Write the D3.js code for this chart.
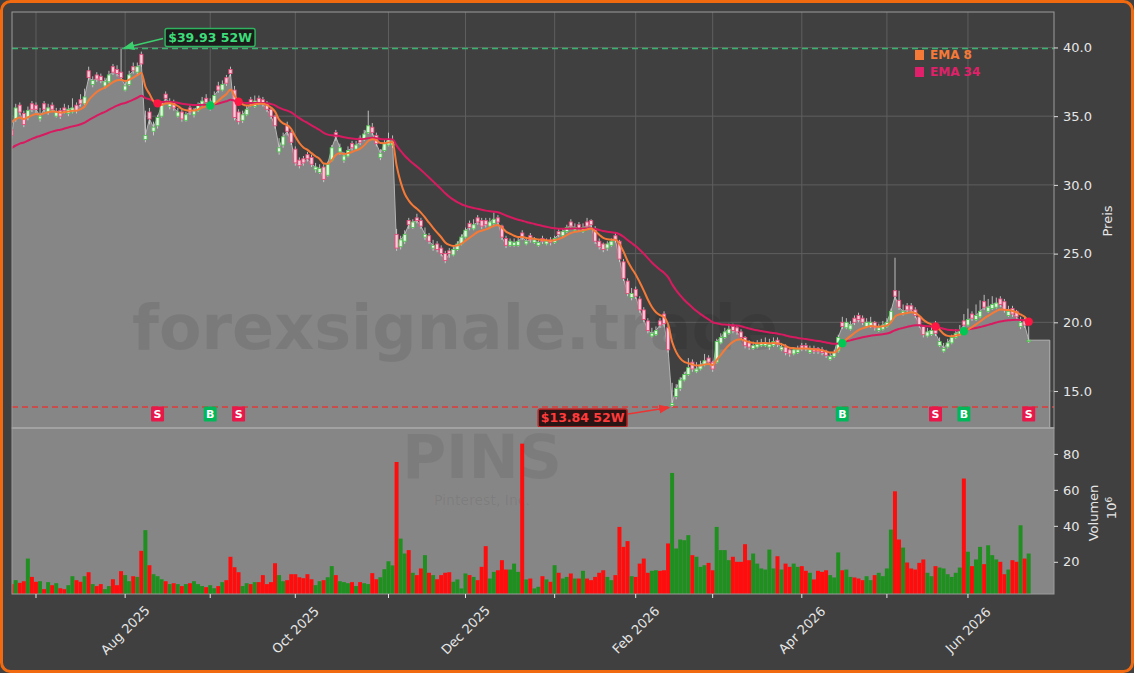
<!DOCTYPE html>
<html><head><meta charset="utf-8">
<script src="https://cdn.jsdelivr.net/npm/d3@7/dist/d3.min.js"></script>
<style>html,body{margin:0;padding:0;background:#404040;}svg{display:block;font-family:"DejaVu Sans",sans-serif;}</style>
</head><body><svg id="c" width="1134" height="673"></svg>
<script>
// ---------------- DATA (PINS daily) ----------------
const startDate = "2025-06-23";
const holidays = ["2025-07-04","2025-09-01","2025-11-27","2025-12-25","2026-01-01","2026-01-19","2026-02-16","2026-04-03","2026-05-25","2026-06-19"];
const opens = [
34.0,34.8,35.8,35.2,34.9,35.9,35.8,34.8,35.9,35.3,
35.8,35.0,35.4,35.6,35.2,35.3,35.8,36.2,35.9,38.3,
37.3,38.0,37.9,37.2,37.5,38.6,38.4,38.2,36.9,37.3,
38.6,38.2,39.5,33.3,35.3,33.9,34.3,35.0,36.6,35.7,
36.0,35.0,35.3,34.7,35.6,35.1,35.4,35.8,36.3,35.6,
35.9,37.2,36.9,37.8,38.4,36.9,35.3,34.7,35.1,36.2,
35.7,36.3,36.2,35.9,35.5,35.0,32.4,32.9,34.3,33.8,
32.6,31.8,31.9,32.2,32.0,31.1,30.9,31.3,30.7,31.8,
33.8,32.4,31.8,32.1,33.0,32.6,33.4,33.3,33.8,34.2,
33.6,32.0,32.5,32.9,32.9,26.4,25.5,25.9,27.4,26.9,
27.6,27.4,26.2,26.3,25.4,25.7,25.4,25.0,25.2,24.9,
25.3,25.7,26.2,27.2,26.8,27.6,27.4,27.4,27.0,27.2,
27.6,27.0,26.1,25.6,25.6,25.6,26.5,25.7,26.3,25.8,
25.6,26.1,25.7,26.0,25.8,26.6,26.3,26.6,27.3,26.7,
27.1,26.6,27.3,27.4,26.8,25.9,25.7,25.4,25.6,26.3,
25.9,24.4,23.0,21.8,22.4,21.7,20.9,20.1,19.0,19.1,
20.1,20.6,19.6,13.95,14.6,15.2,15.8,16.2,17.1,16.4,
16.6,16.9,17.4,17.1,17.1,18.5,18.9,19.2,19.7,19.6,
19.3,18.9,18.5,18.1,18.2,18.3,18.3,18.2,18.3,18.7,
18.0,18.2,18.0,17.7,17.8,18.3,18.3,17.8,18.1,18.1,
18.0,17.9,17.3,17.5,17.9,20.0,19.6,19.5,20.3,20.5,
20.3,19.7,19.7,20.0,19.4,19.5,19.7,20.1,22.3,21.6,
20.6,21.2,21.2,20.9,20.4,19.7,19.0,19.1,19.9,18.3,
17.9,18.2,18.5,18.9,19.1,20.1,19.8,20.6,20.2,20.4,
21.5,20.8,21.0,21.1,21.7,21.5,20.5,21.0,20.8,19.7,
20.2,18.6];
const highs = [
34.2,35.9,36.0,35.4,35.7,36.1,36.0,35.6,36.1,35.9,
36.0,35.6,35.6,35.9,35.8,36.3,36.0,36.6,37.0,38.6,
37.9,38.2,38.1,37.8,38.3,38.8,38.7,39.93,37.6,38.3,
38.9,38.9,39.7,35.4,35.6,34.6,35.1,36.0,36.8,36.3,
36.2,35.6,35.5,35.3,35.8,35.6,36.0,36.4,36.6,36.3,
36.8,37.5,37.6,38.0,38.6,37.2,35.5,35.4,35.8,36.4,
36.5,36.5,36.4,36.1,35.6,35.1,33.4,33.8,34.6,34.0,
32.8,32.0,32.1,32.4,32.2,31.6,31.5,31.5,31.7,32.9,
34.0,33.0,32.4,32.8,33.2,33.2,33.6,34.0,35.4,34.5,
33.8,32.6,33.3,33.8,33.6,26.8,26.3,26.7,27.6,27.5,
27.9,27.6,26.9,26.5,26.0,25.9,25.6,25.2,25.4,25.5,
25.9,26.4,26.9,27.4,27.5,27.8,27.6,27.6,27.6,28.0,
27.8,27.1,26.3,26.1,26.1,26.2,26.7,26.2,26.5,26.2,
26.0,26.3,26.1,26.2,26.3,26.8,26.8,27.1,27.5,27.2,
27.3,27.2,27.6,27.5,27.0,26.1,25.8,25.9,26.1,26.5,
26.0,24.6,23.2,22.5,22.6,21.9,21.1,20.3,19.6,19.7,
20.3,20.8,19.8,15.6,15.5,16.0,16.4,17.4,17.3,17.1,
17.2,17.7,17.6,17.2,18.8,19.2,19.6,19.9,19.9,19.8,
19.5,19.0,18.7,18.6,18.7,18.8,18.9,18.8,18.9,18.9,
18.5,18.4,18.1,18.2,18.3,18.5,18.5,18.3,18.3,18.2,
18.2,18.0,17.8,18.0,19.1,20.4,20.3,20.1,20.5,20.7,
20.5,20.3,20.4,20.1,19.9,20.1,20.3,21.0,24.7,22.3,
21.3,21.4,21.4,21.1,20.5,19.8,19.6,19.7,20.1,18.9,
18.5,18.8,19.1,19.5,19.8,20.6,21.0,20.8,21.3,21.6,
22.0,21.7,21.9,21.8,21.9,21.7,21.2,21.2,20.9,20.4,
20.4,19.7];
const lows = [
33.4,34.6,35.1,34.2,34.7,35.3,35.2,34.6,35.3,35.1,
35.3,34.9,34.8,35.2,35.0,35.2,35.2,35.7,35.8,37.6,
37.1,37.5,37.4,37.0,37.4,38.0,37.9,37.6,36.8,37.2,
38.1,38.0,38.6,33.1,34.4,33.6,34.1,34.9,36.0,35.5,
35.4,34.9,34.6,34.6,35.1,34.9,35.3,35.7,35.8,35.4,
35.8,36.7,36.8,37.2,37.9,34.7,34.4,34.5,35.0,35.7,
35.6,35.8,35.7,35.3,34.8,34.1,32.2,32.7,33.6,32.9,
31.4,31.2,31.4,31.7,31.3,30.9,30.8,30.2,30.6,31.7,
33.2,32.2,31.6,32.0,32.5,32.5,32.9,33.2,33.7,33.6,
32.8,31.8,32.4,32.8,32.7,25.2,25.3,25.7,26.8,26.8,
27.2,26.8,26.0,25.7,25.2,25.1,24.8,24.3,24.7,24.8,
25.2,25.6,26.1,26.7,26.7,27.1,26.8,26.9,26.9,27.1,
27.1,26.0,25.4,25.5,25.5,25.5,26.0,25.6,25.8,25.7,
25.5,25.7,25.6,25.6,25.7,26.2,26.2,26.5,26.8,26.6,
26.6,26.5,26.8,26.9,25.7,25.3,25.1,25.2,25.5,25.8,
24.4,23.0,21.9,21.6,21.7,20.7,20.0,19.2,18.9,19.0,
19.6,19.7,17.8,13.84,14.4,15.0,15.7,16.1,16.4,16.3,
16.5,16.8,16.9,16.4,17.0,18.4,18.8,19.1,19.2,19.1,
18.7,18.1,18.0,18.0,18.1,18.2,18.2,18.0,18.2,18.2,
17.9,17.6,17.5,17.6,17.7,17.9,17.9,17.7,17.7,17.7,
17.6,17.4,17.2,17.4,17.8,19.5,19.5,19.4,19.8,20.0,
19.8,19.6,19.6,19.4,19.3,19.4,19.6,20.0,21.6,20.9,
20.5,20.7,20.7,20.3,19.6,18.9,18.9,19.0,19.0,18.2,
17.8,18.1,18.4,18.8,19.0,19.5,19.7,20.1,20.1,20.3,
20.9,20.7,20.9,21.0,21.1,20.7,20.4,20.4,20.2,19.5,
19.6,18.5];
const closes = [
33.6,35.6,35.3,34.4,35.4,35.5,35.5,35.0,35.5,35.6,
35.5,35.3,35.0,35.4,35.5,35.6,35.4,35.9,36.4,37.8,
37.6,37.7,37.6,37.5,38.0,38.2,38.1,37.8,37.2,38.0,
38.3,38.6,38.8,33.6,34.8,34.2,34.9,35.8,36.3,36.0,
35.6,35.3,34.8,35.1,35.3,35.4,35.8,36.1,36.0,35.8,
36.5,36.9,37.3,37.4,38.1,34.9,34.6,35.1,35.5,35.9,
36.1,36.0,35.9,35.5,35.0,34.3,32.7,33.5,33.9,33.1,
31.6,31.4,31.6,31.9,31.5,31.3,31.2,30.4,31.5,32.7,
33.5,32.7,32.1,32.5,32.7,32.9,33.1,33.7,34.3,33.8,
33.0,32.3,33.0,33.3,33.2,25.4,26.0,26.4,27.1,27.3,
27.4,27.0,26.4,25.9,25.6,25.3,25.0,24.5,25.0,25.3,
25.7,26.2,26.7,26.9,27.1,27.3,27.0,27.1,27.3,27.5,
27.3,26.2,25.6,25.9,25.8,25.9,26.2,25.9,26.0,26.0,
25.8,25.9,25.9,25.8,26.1,26.4,26.6,26.9,27.0,26.9,
26.8,26.9,27.0,27.1,25.9,25.5,25.3,25.7,25.9,26.0,
24.6,23.2,22.1,22.1,21.9,20.9,20.2,19.4,19.2,19.4,
19.8,19.9,18.0,14.1,15.2,15.8,16.2,16.7,16.6,16.6,
16.9,17.2,17.1,16.6,18.6,18.9,19.3,19.5,19.4,19.3,
18.9,18.3,18.2,18.3,18.4,18.5,18.5,18.4,18.6,18.4,
18.2,17.8,17.7,18.0,18.0,18.1,18.1,18.0,17.9,17.9,
17.8,17.6,17.5,17.8,18.9,19.7,20.0,19.8,20.0,20.2,
20.0,20.0,20.0,19.6,19.6,19.8,20.0,20.8,21.9,21.1,
20.8,20.9,20.9,20.5,19.8,19.1,19.3,19.4,19.2,18.6,
18.1,18.5,18.9,19.2,19.4,19.8,20.2,20.3,20.5,20.8,
21.1,21.1,21.3,21.4,21.3,20.9,20.8,20.6,20.4,20.0,
19.8,18.7];
const volumes = [ // millions of shares
7.6,9.8,8.3,9.2,21.8,11.6,8.9,9.2,4.8,8.7,
7.0,8.1,5.3,4.8,7.0,12.0,9.8,8.9,12.0,14.2,
7.6,6.5,7.6,4.8,6.5,10.3,7.0,14.8,12.6,9.2,
12.0,11.6,26.1,37.6,18.1,13.1,12.0,10.3,9.2,7.6,
8.1,7.6,6.5,7.6,8.1,9.2,7.6,6.5,5.9,7.0,
5.3,6.5,8.7,9.8,22.8,17.0,14.2,6.5,8.1,7.6,
8.7,8.7,12.6,7.6,8.7,19.2,12.6,9.2,9.8,13.1,
13.1,11.4,10.9,13.1,10.3,7.0,9.2,9.8,11.4,17.6,
12.6,9.2,8.7,8.1,8.7,6.5,8.7,8.1,7.6,13.7,
10.3,11.4,15.9,20.3,18.0,75.5,32.9,24.6,26.5,13.9,
12.6,16.3,23.7,13.9,12.6,10.3,12.6,13.9,14.2,8.9,
10.2,5.2,13.5,12.6,11.6,9.8,17.2,28.7,10.7,14.4,
15.3,20.9,15.7,15.7,19.0,14.4,85.7,10.2,10.7,5.2,
6.1,12.0,10.2,8.9,18.1,13.9,10.7,11.6,13.5,10.7,
10.7,15.0,10.7,9.8,11.6,13.9,15.3,11.6,9.8,12.6,
39.4,28.3,31.5,12.0,11.6,19.0,21.8,13.9,15.0,15.3,
15.0,15.3,30.2,69.4,27.4,32.4,32.0,34.8,23.7,22.8,
17.2,18.1,19.4,15.3,39.4,26.5,26.5,20.9,22.8,20.0,
20.0,29.8,20.9,24.6,19.0,16.3,15.7,26.8,16.3,23.1,
15.7,19.0,17.2,19.0,17.2,17.6,15.0,13.9,10.2,15.0,
14.4,15.3,12.6,11.3,25.2,15.3,15.7,11.6,11.3,10.7,
9.8,12.0,9.8,12.6,13.9,12.0,16.3,37.9,59.2,32.4,
27.9,19.6,16.3,15.7,19.4,21.3,13.9,12.0,17.6,16.8,
16.3,13.1,11.6,13.9,16.8,66.3,25.6,17.6,21.3,28.3,
18.7,29.2,23.7,21.3,20.0,13.1,15.7,20.9,20.0,40.3,
21.8,24.6];
const emaSeed8 = 34.56, emaSeed34 = 32.7;   // EMA values at the first bar
const signalDates = ["2025-08-13","2025-09-02","2025-09-11","2026-04-16","2026-05-19","2026-05-29","2026-06-23"];
const signalTypes = ["S","B","S","B","S","B","S"];
const high52 = 39.93, low52 = 13.84;
const priceTicks = [15,20,25,30,35,40];
const volTicks = [20,40,60,80];
const labelMonths = [1,3,5,7,9,11]; // 0-based months that get a label (Feb, Apr, Jun, Aug, Oct, Dec)

// ---------------- derived ----------------
function tradingDays(start, n, hol){
  const out=[]; const hs=new Set(hol); const d=new Date(start+"T12:00:00Z");
  while(out.length<n){ const wd=d.getUTCDay(); const s=d.toISOString().slice(0,10);
    if(wd!==0&&wd!==6&&!hs.has(s)) out.push(s); d.setUTCDate(d.getUTCDate()+1);} return out;
}
const N = closes.length;
const dates = tradingDays(startDate, N, holidays);
function ema(vals, n, seed){ const a=2/(n+1); const r=[seed]; for(let i=1;i<vals.length;i++) r.push(a*vals[i]+(1-a)*r[i-1]); return r; }
const ema8 = ema(closes, 8, emaSeed8), ema34 = ema(closes, 34, emaSeed34);
const bars = closes.map((c,k)=>({k, o:opens[k], h:highs[k], l:lows[k], c, v:volumes[k], d:dates[k]}));

// ---------------- layout ----------------
const W=1134, H=673;
const L=12, R=1054, PT=12, PB=428, VT=428, VB=594;
const svg = d3.select("#c");
const x = d3.scaleLinear().domain([0.077, 257.24]).range([L, R]);
const y = d3.scaleLinear().domain([12.31, 42.58]).range([PB, PT]);
const yv = d3.scaleLinear().domain([2.1, 94.4]).range([VB, VT]);
const step = x(1)-x(0);

svg.append("rect").attr("x",1.5).attr("y",1.5).attr("width",W-3).attr("height",H-3).attr("rx",9)
  .attr("fill","#404040").attr("stroke","#f26a10").attr("stroke-width",3);

const defs = svg.append("defs");
defs.append("clipPath").attr("id","cp").append("rect").attr("x",L).attr("y",PT).attr("width",R-L).attr("height",PB-PT);
defs.append("clipPath").attr("id","cv").append("rect").attr("x",L).attr("y",VT).attr("width",R-L).attr("height",VB-VT);
function marker(id,color){
  defs.append("marker").attr("id",id).attr("viewBox","0 0 10 10").attr("refX",9).attr("refY",5)
    .attr("markerWidth",7).attr("markerHeight",7).attr("orient","auto-start-reverse")
    .append("path").attr("d","M0,1 L10,5 L0,9 z").attr("fill",color);
}
marker("ah","#3ccf6e"); marker("al","#ee3333");

// month ticks
const monthTicks = bars.filter((b,k)=>k>0 && b.d.slice(0,7)!==dates[k-1].slice(0,7));

// ---------------- price panel ----------------
const gp = svg.append("g").attr("clip-path","url(#cp)");
gp.append("rect").attr("x",L).attr("y",PT).attr("width",R-L).attr("height",PB-PT).attr("fill","#404040");
gp.selectAll(".hg").data(priceTicks).join("line").attr("x1",L).attr("x2",R)
  .attr("y1",d=>y(d)).attr("y2",d=>y(d)).attr("stroke","#5e5e5e").attr("stroke-width",1);
gp.selectAll(".vg").data(monthTicks).join("line").attr("y1",PT).attr("y2",PB)
  .attr("x1",d=>x(d.k)).attr("x2",d=>x(d.k)).attr("stroke","#5e5e5e").attr("stroke-width",1);

const areaPts = bars.map(b=>[b.k,b.c]).concat([[256.2, closes[N-1]]]);
gp.append("path").datum(areaPts)
  .attr("d", d3.area().x(d=>x(d[0])).y0(PB).y1(d=>y(d[1])))
  .attr("fill","#868686");
gp.append("path").datum(areaPts)
  .attr("d", d3.line().x(d=>x(d[0])).y(d=>y(d[1])))
  .attr("fill","none").attr("stroke","#b4b4b4").attr("stroke-width",1);
gp.append("line").attr("x1",x(256.2)).attr("x2",x(256.2)).attr("y1",y(closes[N-1])).attr("y2",PB).attr("stroke","#b4b4b4");

// watermark
gp.append("text").attr("x",455).attr("y",349).attr("text-anchor","middle")
  .attr("font-size",62).attr("font-weight","bold").attr("fill","#000").attr("fill-opacity",0.085)
  .text("forexsignale.trade");

// 52W lines
gp.append("line").attr("x1",L).attr("x2",R).attr("y1",y(high52)).attr("y2",y(high52))
  .attr("stroke","#3cb371").attr("stroke-width",1.5).attr("stroke-dasharray","6,4");
gp.append("line").attr("x1",L).attr("x2",R).attr("y1",y(low52)).attr("y2",y(low52))
  .attr("stroke","#e03a3a").attr("stroke-width",1.5).attr("stroke-dasharray","6,4");

// candles
gp.selectAll(".wk").data(bars).join("line")
  .attr("x1",b=>x(b.k)).attr("x2",b=>x(b.k)).attr("y1",b=>y(b.h)).attr("y2",b=>y(b.l))
  .attr("stroke","#dcdcdc").attr("stroke-width",1).attr("stroke-opacity",0.8);
gp.selectAll(".bd").data(bars).join("rect")
  .attr("x",b=>x(b.k)-1.6).attr("width",3.2)
  .attr("y",b=>y(Math.max(b.o,b.c))).attr("height",b=>Math.max(1,Math.abs(y(b.o)-y(b.c))))
  .attr("fill",b=>b.c>=b.o?"#e6f7e6":"#f7cdd9")
  .attr("stroke",b=>b.c>=b.o?"#52c452":"#e64a7a").attr("stroke-width",0.9);

// EMAs
gp.append("path").datum(ema34).attr("d",d3.line().x((d,i)=>x(i)).y(d=>y(d)).curve(d3.curveMonotoneX))
  .attr("fill","none").attr("stroke","#d81b60").attr("stroke-width",2);
gp.append("path").datum(ema8).attr("d",d3.line().x((d,i)=>x(i)).y(d=>y(d)).curve(d3.curveMonotoneX))
  .attr("fill","none").attr("stroke","#f57a38").attr("stroke-width",2);

// signals
const sigs = signalDates.map((d,j)=>{const k=dates.indexOf(d); return {k, t:signalTypes[j], v:(ema8[k]+ema34[k])/2};});
gp.selectAll(".sd").data(sigs).join("circle").attr("cx",s=>x(s.k)).attr("cy",s=>y(s.v)).attr("r",4.2)
  .attr("fill",s=>s.t==="B"?"#00c853":"#ff1744");
const sg = gp.selectAll(".sm").data(sigs).join("g").attr("transform",s=>`translate(${x(s.k)},414)`);
sg.append("rect").attr("x",-6.5).attr("y",-7.5).attr("width",13).attr("height",15).attr("rx",1)
  .attr("fill",s=>s.t==="B"?"#00b85a":"#e8194a");
sg.append("text").attr("text-anchor","middle").attr("dy","0.36em").attr("font-size",11).attr("font-weight","bold")
  .attr("fill","#fff").text(s=>s.t);

// 52W annotations
const kH = highs.indexOf(d3.max(highs)), kL = lows.indexOf(d3.min(lows));
const hx = x(kH), hy = y(high52), lx = x(kL), ly = y(low52);
svg.append("line").attr("x1",hx+42).attr("y1",hy-10).attr("x2",hx+3).attr("y2",hy-0.5)
  .attr("stroke","#3ccf6e").attr("stroke-width",1.6).attr("marker-end","url(#ah)");
svg.append("rect").attr("x",hx+44).attr("y",hy-20).attr("width",90).attr("height",18).attr("rx",2)
  .attr("fill","#1c1c1c").attr("stroke","#2fb35f").attr("stroke-width",1.5);
svg.append("text").attr("x",hx+89).attr("y",hy-11).attr("dy","0.36em").attr("text-anchor","middle")
  .attr("font-size",12.5).attr("font-weight","bold").attr("fill","#3ddc7a").text(`$${high52.toFixed(2)} 52W`);
svg.append("line").attr("x1",lx-44).attr("y1",ly+7).attr("x2",lx-3).attr("y2",ly+0.5)
  .attr("stroke","#ee3333").attr("stroke-width",1.6).attr("marker-end","url(#al)");
svg.append("rect").attr("x",lx-134).attr("y",ly+2).attr("width",89).attr("height",18).attr("rx",2)
  .attr("fill","#2a1414").attr("stroke","#c62828").attr("stroke-width",1.5);
svg.append("text").attr("x",lx-89.5).attr("y",ly+11).attr("dy","0.36em").attr("text-anchor","middle")
  .attr("font-size",12.5).attr("font-weight","bold").attr("fill","#ff3b3b").text(`$${low52.toFixed(2)} 52W`);

// legend
const leg = svg.append("g").attr("transform","translate(915,50)");
[["EMA 8","#f57a38"],["EMA 34","#e0206a"]].forEach((d,j)=>{
  leg.append("rect").attr("x",0).attr("y",j*17).attr("width",9).attr("height",10).attr("fill",d[1]);
  leg.append("text").attr("x",15).attr("y",j*17+5).attr("dy","0.36em").attr("font-size",12).attr("font-weight","bold")
    .attr("fill",d[1]).text(d[0]);
});

// price frame + axis
svg.append("rect").attr("x",L).attr("y",PT).attr("width",R-L).attr("height",PB-PT).attr("fill","none").attr("stroke","#9c9c9c").attr("stroke-width",1);
const ay = svg.append("g").attr("transform",`translate(${R},0)`)
  .call(d3.axisRight(y).tickValues(priceTicks).tickFormat(d3.format(".1f")).tickSize(4).tickPadding(5));
ay.select(".domain").remove();
ay.selectAll("line").attr("stroke","#dddddd");
ay.selectAll("text").attr("fill","#e6e6e6").attr("font-size",13).attr("font-family","DejaVu Sans");
svg.append("text").attr("transform","translate(1107,221) rotate(-90)").attr("text-anchor","middle").attr("dy","0.36em")
  .attr("font-size",13).attr("fill","#e6e6e6").text("Preis");

// ---------------- volume panel ----------------
const gv = svg.append("g").attr("clip-path","url(#cv)");
gv.append("rect").attr("x",L).attr("y",VT).attr("width",R-L).attr("height",VB-VT).attr("fill","#868686");
gv.append("text").attr("x",482).attr("y",478).attr("text-anchor","middle").attr("font-size",60).attr("font-weight","bold")
  .attr("fill","#000").attr("fill-opacity",0.07).text("PINS");
gv.append("text").attr("x",482).attr("y",505).attr("text-anchor","middle").attr("font-size",14)
  .attr("fill","#000").attr("fill-opacity",0.07).text("Pinterest, Inc.");
gv.selectAll(".vb").data(bars).join("rect")
  .attr("x",b=>x(b.k)-step*0.5).attr("width",step*0.98)
  .attr("y",b=>yv(b.v)).attr("height",b=>VB-yv(b.v))
  .attr("fill",b=>b.c>=b.o?"#1f8f1f":"#ff0d0d");
svg.append("line").attr("x1",L).attr("x2",R).attr("y1",VT).attr("y2",VT).attr("stroke","#a8a8a8").attr("stroke-width",2);
svg.append("rect").attr("x",L).attr("y",VT).attr("width",R-L).attr("height",VB-VT).attr("fill","none").attr("stroke","#9c9c9c").attr("stroke-width",1);
const av = svg.append("g").attr("transform",`translate(${R},0)`)
  .call(d3.axisRight(yv).tickValues(volTicks).tickFormat(d3.format("d")).tickSize(4).tickPadding(5));
av.select(".domain").remove();
av.selectAll("line").attr("stroke","#dddddd");
av.selectAll("text").attr("fill","#e6e6e6").attr("font-size",13).attr("font-family","DejaVu Sans");
svg.append("text").attr("transform","translate(1093,513) rotate(-90)").attr("text-anchor","middle").attr("dy","0.36em")
  .attr("font-size",13).attr("fill","#e6e6e6").text("Volumen");
const e6 = svg.append("text").attr("transform","translate(1111,508) rotate(-90)").attr("text-anchor","middle").attr("dy","0.36em")
  .attr("font-size",13).attr("fill","#e6e6e6");
e6.append("tspan").text("10");
e6.append("tspan").attr("dy","-0.45em").attr("font-size",9).text("6");

// x axis
const gx = svg.append("g");
gx.selectAll(".xt").data(monthTicks).join("line").attr("x1",b=>x(b.k)).attr("x2",b=>x(b.k))
  .attr("y1",VB).attr("y2",VB+4).attr("stroke","#e6e6e6");
const fmt = d3.utcFormat("%b %Y");
gx.selectAll(".xl").data(monthTicks.filter(b=>labelMonths.includes(new Date(b.d+"T12:00:00Z").getUTCMonth()))).join("text")
  .attr("transform",b=>`translate(${x(b.k)},630) rotate(-45)`).attr("text-anchor","middle").attr("dy","0.36em")
  .attr("font-size",13).attr("fill","#e6e6e6").text(b=>fmt(new Date(b.d+"T12:00:00Z")));
</script></body></html>
